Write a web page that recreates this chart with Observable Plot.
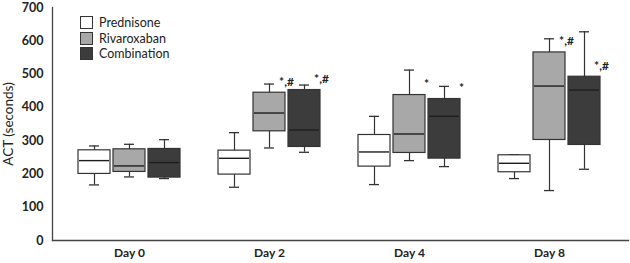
<!DOCTYPE html>
<html>
<head>
<meta charset="utf-8">
<script src="https://cdn.jsdelivr.net/npm/d3@7"></script>
<script src="https://cdn.jsdelivr.net/npm/@observablehq/plot@0.6"></script>
<style>
  html, body { margin: 0; padding: 0; background: #fff; overflow: hidden; }
  #wrap { position: relative; width: 630px; height: 263px; font-family: Lato, "Open Sans", sans-serif; }
  #legend { position: absolute; left: 80px; top: 15px; font-size: 12.5px; color: #222; }
  #legend .row { display: flex; align-items: center; height: 15.5px; }
  #legend .sw { width: 11px; height: 11px; border: 1px solid #333; margin-right: 6px; box-sizing: content-box; }
</style>
</head>
<body>
<div id="wrap"><div id="legend"></div></div>
<script>
// Categories
const days = ["Day 0", "Day 2", "Day 4", "Day 8"];
const series = ["Prednisone", "Rivaroxaban", "Combination"];
const seriesColors = ["#ffffff", "#a8a8a8", "#3c3c3c"];
// Five-number summaries per day: [min, q1, median, q3, max]
const prednisone  = [[167, 200, 240, 271, 284], [160, 198, 247, 270, 324], [168, 222, 266, 317, 373], [186, 205, 232, 256, 258]];
const rivaroxaban = [[191, 206, 224, 274, 289], [278, 328, 383, 444, 470], [240, 263, 320, 437, 512], [150, 302, 464, 565, 606]];
const combination = [[186, 189, 234, 275, 303], [265, 281, 332, 452, 467], [222, 246, 373, 425, 463], [214, 287, 452, 492, 627]];
// Significance annotations
const annotDays   = ["Day 2", "Day 2", "Day 4", "Day 4", "Day 8", "Day 8"];
const annotSeries = ["Rivaroxaban", "Combination", "Rivaroxaban", "Combination", "Rivaroxaban", "Combination"];
const annotLabels = ["*,#", "*,#", "*", "*", "*,#", "*,#"];
// Y ticks
const yTicks = [0, 100, 200, 300, 400, 500, 600, 700];

const summaries = [prednisone, rivaroxaban, combination];
const rowsBySeries = series.map((s, si) => days.map((d, di) => {
  const [min, q1, median, q3, max] = summaries[si][di];
  return {series: s, day: d, min, q1, median, q3, max};
}));

const band = 140, half = band / 2, boxW = 32, gap = 35, capW = 10;
const ink = "#333";

const marks = [];
rowsBySeries.forEach((rows, si) => {
  const o = (si - 1) * gap;
  marks.push(
    Plot.ruleX(rows, {x: "day", y1: "min", y2: "max", dx: o, stroke: ink, strokeWidth: 1.2}),
    Plot.tickY(rows, {x: "day", y: "min", stroke: ink, strokeWidth: 1.3, insetLeft: half + o - capW / 2, insetRight: half - o - capW / 2}),
    Plot.tickY(rows, {x: "day", y: "max", stroke: ink, strokeWidth: 1.3, insetLeft: half + o - capW / 2, insetRight: half - o - capW / 2}),
    Plot.barY(rows, {x: "day", y1: "q1", y2: "q3", fill: seriesColors[si], stroke: ink, strokeWidth: 1.2, insetLeft: half + o - boxW / 2, insetRight: half - o - boxW / 2}),
    Plot.tickY(rows, {x: "day", y: "median", stroke: "#1e1e1e", strokeWidth: 1.4, insetLeft: half + o - boxW / 2 + 1, insetRight: half - o - boxW / 2 + 1})
  );
  const ann = annotLabels.map((label, i) => ({label, day: annotDays[i], series: annotSeries[i]}))
    .filter(a => a.series === series[si])
    .map(a => ({...a, q3: rows.find(r => r.day === a.day).q3}));
  marks.push(Plot.text(ann, {x: "day", y: "q3", text: "label", dx: o + 17, dy: -11, fontSize: 12, fontWeight: "bold", fill: "#222"}));
});

const chart = Plot.plot({
  width: 630,
  height: 263,
  marginLeft: 52,
  marginRight: 2,
  marginTop: 7,
  marginBottom: 23,
  style: {fontFamily: "Lato, 'Open Sans', sans-serif", color: "#222", background: "#fff"},
  x: {domain: days, paddingInner: 0, paddingOuter: 0.057, align: 0.42, axis: null},
  y: {domain: [0, 700], axis: null},
  marks: [
    Plot.axisY({ticks: yTicks, tickSize: 0, tickPadding: 9, fontWeight: "bold", fontSize: 12.5, label: null}),
    Plot.axisY({ticks: [], label: "ACT (seconds)", labelAnchor: "center", labelArrow: "none", labelOffset: 49, fontSize: 13.5}),
    Plot.axisX({tickSize: 0, tickPadding: 8, fontWeight: "bold", fontSize: 12, label: null}),
    Plot.frame({anchor: "left", stroke: "#444", strokeWidth: 1.3}),
    Plot.frame({anchor: "bottom", stroke: "#444", strokeWidth: 1.3}),
    ...marks
  ]
});
const wrap = document.getElementById("wrap");
wrap.insertBefore(chart, wrap.firstChild);

const legend = document.getElementById("legend");
series.forEach((s, i) => {
  const row = document.createElement("div");
  row.className = "row";
  const sw = document.createElement("span");
  sw.className = "sw";
  sw.style.background = seriesColors[i];
  const lab = document.createElement("span");
  lab.textContent = s;
  row.appendChild(sw);
  row.appendChild(lab);
  legend.appendChild(row);
});
</script>
</body>
</html>
